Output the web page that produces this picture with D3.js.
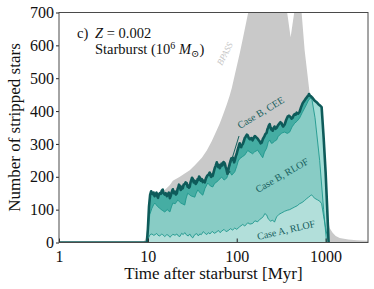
<!DOCTYPE html>
<html>
<head>
<meta charset="utf-8">
<script src="https://cdn.jsdelivr.net/npm/d3@7"></script>
<style>
  html, body { margin: 0; padding: 0; background: #ffffff; }
  text { font-family: 'Liberation Serif', 'DejaVu Serif', serif; }
</style>
</head>
<body>
<div id="chart"></div>
<script>
// [time after starburst (Myr), number of stripped stars]
const bpass = [
  [1, 0], [8.8, 0], [9.4, 10], [9.8, 40], [10.2, 95], [10.6, 125], [11.1, 138], [12.0, 145],
  [13.6, 150], [15.5, 160], [17.7, 175], [19.1, 188], [22.9, 200], [26.0, 210], [29.6, 220],
  [34.0, 236], [40.5, 258], [46.0, 280], [52.3, 308], [58.0, 335], [64.4, 362], [70.0, 388],
  [77.2, 420], [83.0, 446], [88.0, 470], [95.0, 510], [108, 575], [118, 625], [129, 676],
  [140, 722], [200, 820], [300, 800], [340, 760], [365, 710], [404, 625], [449, 710],
  [490, 740], [537, 700], [581, 585], [661, 455], [720, 380], [800, 290], [900, 200],
  [1000, 120], [1060, 70], [1110, 44], [1200, 30], [1300, 20], [1440, 14], [1800, 9],
  [2240, 7], [3000, 5]
]

const caseBCEE = [
  [1, 0], [9.75, 0], [10.0, 40], [10.3, 110], [10.6, 145], [10.9, 156], [11.1, 150], [11.4, 147],
  [11.6, 152], [11.9, 141], [12.2, 146], [12.5, 152], [12.8, 140], [13.0, 136], [13.3, 146],
  [13.6, 150], [14.0, 148], [14.3, 157], [14.7, 161], [15.0, 150], [15.5, 146], [15.9, 150],
  [16.35, 141], [16.8, 147], [17.2, 152], [17.7, 135], [18.1, 142], [18.4, 150], [18.8, 158],
  [19.1, 162], [19.6, 150], [20.2, 155], [20.7, 146], [21.2, 150], [21.6, 163], [22.0, 168],
  [22.4, 176], [22.9, 172], [23.4, 160], [23.8, 163], [24.3, 170], [24.7, 165], [25.3, 176],
  [26.0, 178], [26.6, 183], [27.4, 180], [28.0, 170], [28.5, 174], [29.0, 167], [29.6, 170],
  [30.2, 183], [30.8, 190], [31.4, 197], [32.0, 194], [32.8, 183], [33.7, 188], [34.5, 178],
  [35.5, 183], [36.3, 193], [37.0, 190], [37.7, 201], [38.4, 198], [39.5, 188], [40.5, 193],
  [41.5, 184], [42.5, 188], [43.7, 183], [45.0, 195], [46.5, 203], [48.0, 206], [49.7, 213],
  [50.5, 204], [51.5, 200], [52.5, 207], [53.7, 203], [55.0, 214], [56.5, 226], [58.0, 234],
  [59.6, 244], [60.8, 236], [62.0, 230], [63.2, 236], [64.4, 226], [66.0, 232], [67.5, 240],
  [69.0, 235], [71.0, 245], [73.3, 241], [75.0, 230], [76.5, 224], [78.0, 213], [79.2, 210],
  [80.5, 222], [82.0, 232], [83.5, 240], [85.5, 250], [87.0, 256], [88.5, 252], [90.2, 258],
  [92.0, 250], [93.5, 244], [95, 250], [97.5, 262], [100, 270], [102, 280], [104, 287],
  [106, 296], [108, 302], [110, 294], [112, 290], [114, 296], [117, 300], [120, 308],
  [123, 318], [126, 322], [130, 328], [133, 326], [137, 317], [141, 314], [146, 318],
  [151, 311], [155, 318], [160, 324], [166, 320], [172, 316], [176, 312], [181, 308],
  [186, 302], [191, 304], [197, 315], [204, 322], [210, 330], [217, 334], [221, 344],
  [226, 350], [230, 356], [235, 360], [240, 350], [245, 344], [250, 346], [254, 340],
  [260, 348], [266, 353], [273, 346], [281, 349], [290, 356], [300, 361], [310, 366],
  [320, 363], [327, 356], [333, 353], [340, 357], [346, 359], [353, 366], [360, 373],
  [367, 378], [374, 383], [387, 386], [400, 383], [413, 377], [426, 380], [437, 387],
  [449, 391], [460, 389], [472, 395], [490, 392], [510, 398], [520, 405], [530, 412],
  [541, 418], [552, 424], [565, 428], [580, 432], [595, 437], [612, 441], [626, 445],
  [640, 447], [650, 452], [661, 449], [675, 446], [690, 444], [714, 440], [750, 432],
  [792, 427], [830, 421], [857, 418], [902, 412], [950, 320], [1000, 215], [1040, 110],
  [1081, 0]
]

const caseBRLOF = [
  [9.8, 0], [10.1, 40], [10.5, 85], [11.1, 104], [11.6, 115], [12.0, 120], [12.8, 110],
  [13.6, 104], [14.5, 98], [15.5, 93], [16.5, 100], [17.7, 93], [18.4, 108], [19.1, 120],
  [20.3, 118], [21.7, 129], [23.5, 120], [26.0, 114], [27.0, 135], [28.1, 150], [30.5, 142],
  [33.7, 138], [35.0, 150], [36.5, 160], [39.0, 150], [41.5, 144], [44.0, 165], [47.2, 181],
  [50.5, 172], [53.7, 169], [56.5, 180], [59.6, 184], [63.5, 192], [67.8, 199], [72.0, 190],
  [77.2, 196], [80.0, 208], [83.4, 215], [88.0, 205], [95, 215], [100, 232], [104, 248],
  [108, 255], [117, 262], [123, 266], [133, 280], [141, 275], [151, 270], [159, 276],
  [172, 281], [183, 270], [196, 258], [205, 275], [217, 287], [226, 305], [235, 312],
  [245, 302], [254, 303], [266, 308], [281, 312], [292, 322], [304, 327], [320, 333],
  [346, 336], [370, 332], [394, 336], [420, 352], [449, 363], [480, 370], [510, 379],
  [545, 395], [581, 409], [615, 422], [644, 434], [670, 438], [697, 440], [760, 380],
  [857, 250], [950, 100], [1026, 0]
]

const caseARLOF = [
  [9.8, 0], [10.2, 15], [10.6, 24], [11.1, 26], [11.6, 22], [12.0, 23], [12.5, 28], [13.0, 22],
  [13.6, 20], [14.2, 25], [14.7, 24], [15.5, 18], [16.35, 24], [17.0, 22], [17.7, 16],
  [18.4, 20], [19.1, 25], [20.2, 22], [21.2, 26], [22.0, 20], [22.9, 18], [24.0, 28],
  [25.0, 24], [26.0, 30], [27.4, 22], [28.5, 20], [29.6, 26], [31.0, 17], [32.0, 14],
  [33.7, 24], [35.5, 27], [37.0, 20], [38.4, 26], [40.0, 24], [42.0, 33], [44.0, 28],
  [46.0, 24], [48.0, 30], [50.0, 26], [53.0, 34], [56.0, 28], [59.6, 32], [62.0, 37],
  [65.0, 30], [68.0, 35], [72.0, 40], [76.0, 33], [80.0, 36], [85.0, 42], [90.0, 38],
  [95.0, 44], [100, 40], [108, 48], [117, 55], [123, 50], [133, 60], [141, 56], [151, 58],
  [160, 66], [172, 63], [181, 70], [191, 74], [200, 80], [207, 88], [217, 84], [226, 72],
  [240, 65], [254, 68], [266, 62], [281, 78], [300, 86], [320, 90], [346, 95], [370, 98],
  [394, 100], [420, 104], [449, 108], [480, 112], [510, 118], [545, 122], [581, 128],
  [615, 134], [644, 138], [670, 142], [697, 145], [720, 140], [760, 134], [808, 130],
  [857, 126], [902, 118], [950, 80], [1000, 45], [1050, 15], [1100, 0]
]

const xTicks = [1, 10, 100, 1000]
const yTicks = [0, 100, 200, 300, 400, 500, 600, 700]

const W = 374
const H = 289
const margin = { left: 59, top: 12.5, right: 6, bottom: 46.5 }

const x = d3.scaleLog().domain([1, 3000]).range([margin.left, W - margin.right])
const y = d3.scaleLinear().domain([0, 700]).range([H - margin.bottom, margin.top])

const svg = d3.select('#chart').append('svg').attr('width', W).attr('height', H)

const defs = svg.append('defs')
defs
  .append('clipPath')
  .attr('id', 'plotClip')
  .append('rect')
  .attr('x', margin.left)
  .attr('y', margin.top)
  .attr('width', W - margin.right - margin.left)
  .attr('height', H - margin.bottom - margin.top)

// medium band only runs while the RLOF curve is still up
defs
  .append('clipPath')
  .attr('id', 'bandClip')
  .append('rect')
  .attr('x', x(9))
  .attr('y', margin.top)
  .attr('width', x(700) - x(9))
  .attr('height', H - margin.bottom - margin.top)

const plot = svg.append('g').attr('clip-path', 'url(#plotClip)')

const area = d3
  .area()
  .x((d) => x(d[0]))
  .y0(y(0))
  .y1((d) => y(d[1]))

const line = d3
  .line()
  .x((d) => x(d[0]))
  .y((d) => y(d[1]))

plot.append('path').attr('d', area(bpass)).attr('fill', '#c9c9c9')

plot.append('path').attr('d', area(caseBCEE)).attr('fill', '#a3ddd6')
plot
  .append('g')
  .attr('clip-path', 'url(#bandClip)')
  .append('path')
  .attr('d', area(caseBCEE))
  .attr('fill', '#45ada3')
plot.append('path').attr('d', area(caseBRLOF)).attr('fill', '#88ccc5')
plot.append('path').attr('d', area(caseARLOF)).attr('fill', '#b2dfda')

plot
  .append('path')
  .attr('d', line(caseARLOF))
  .attr('fill', 'none')
  .attr('stroke', '#1f978d')
  .attr('stroke-width', 0.9)
plot
  .append('path')
  .attr('d', line(caseBRLOF))
  .attr('fill', 'none')
  .attr('stroke', '#1f978d')
  .attr('stroke-width', 0.9)
plot
  .append('path')
  .attr('d', line(caseBCEE))
  .attr('fill', 'none')
  .attr('stroke', '#0e5b5a')
  .attr('stroke-width', 2.6)
  .attr('stroke-linejoin', 'round')

// axes
const xAxis = svg
  .append('g')
  .attr('transform', `translate(0,${y(0)})`)
  .call(
    d3
      .axisBottom(x)
      .tickValues(xTicks)
      .tickFormat(d3.format('d'))
      .tickSizeInner(-4)
      .tickSizeOuter(0)
      .tickPadding(8)
  )
xAxis.select('.domain').remove()
xAxis.selectAll('line').attr('stroke', '#222')
xAxis.selectAll('text').attr('font-size', 16).attr('fill', '#111').attr('font-family', 'Liberation Serif')

const yAxis = svg
  .append('g')
  .attr('transform', `translate(${margin.left},0)`)
  .call(d3.axisLeft(y).tickValues(yTicks).tickSizeInner(3).tickSizeOuter(0).tickPadding(2))
yAxis.select('.domain').remove()
yAxis.selectAll('line').attr('stroke', '#222')
yAxis.selectAll('text').attr('font-size', 16).attr('fill', '#111').attr('font-family', 'Liberation Serif')

svg
  .append('rect')
  .attr('x', margin.left)
  .attr('y', margin.top)
  .attr('width', W - margin.right - margin.left)
  .attr('height', H - margin.bottom - margin.top)
  .attr('fill', 'none')
  .attr('stroke', '#4a4a4a')
  .attr('stroke-width', 1)

svg
  .append('text')
  .attr('x', (margin.left + W - margin.right) / 2)
  .attr('y', 279)
  .attr('text-anchor', 'middle')
  .attr('font-size', 17)
  .attr('fill', '#111')
  .text('Time after starburst [Myr]')

svg
  .append('text')
  .attr('transform', `translate(20,${(margin.top + H - margin.bottom) / 2}) rotate(-90)`)
  .attr('text-anchor', 'middle')
  .attr('font-size', 17)
  .attr('fill', '#111')
  .text('Number of stripped stars')

// panel annotation
const note = svg.append('g').attr('fill', '#111').attr('font-size', 14.5)
note.append('text').attr('x', 77).attr('y', 38).text('c)')
const zLine = note.append('text').attr('x', 95).attr('y', 38)
zLine.append('tspan').attr('font-style', 'italic').text('Z')
zLine.append('tspan').text(' = 0.002')
const sb = note.append('text').attr('x', 95).attr('y', 54)
sb.append('tspan').text('Starburst (10')
sb.append('tspan').attr('font-size', 10).attr('dy', -5).text('6')
sb.append('tspan').attr('dy', 5).text(' ')
sb.append('tspan').attr('font-style', 'italic').text('M')
sb.append('tspan').attr('font-size', 10).attr('dy', 3).text('⊙')
sb.append('tspan').attr('dy', -3).text(')')

svg
  .append('text')
  .attr('transform', 'translate(222,66) rotate(-63)')
  .attr('font-size', 9)
  .attr('font-style', 'italic')
  .attr('fill', '#c4c4c4')
  .text('BPASS')

const teal = '#17605e'
svg
  .append('text')
  .attr('transform', 'translate(240,129) rotate(-31)')
  .attr('font-size', 10)
  .attr('fill', teal)
  .text('Case B, CEE')
svg
  .append('text')
  .attr('transform', 'translate(258,193) rotate(-30)')
  .attr('font-size', 10)
  .attr('fill', teal)
  .text('Case B, RLOF')
svg
  .append('text')
  .attr('transform', 'translate(258,240) rotate(-13)')
  .attr('font-size', 10)
  .attr('fill', teal)
  .text('Case A, RLOF')

defs
  .append('marker')
  .attr('id', 'arrowHead')
  .attr('viewBox', '0 0 10 10')
  .attr('refX', 9)
  .attr('refY', 5)
  .attr('markerWidth', 5)
  .attr('markerHeight', 5)
  .attr('orient', 'auto')
  .append('path')
  .attr('d', 'M0,0 L10,5 L0,10 z')
  .attr('fill', teal)

svg
  .append('line')
  .attr('x1', 239)
  .attr('y1', 136)
  .attr('x2', 227)
  .attr('y2', 175)
  .attr('stroke', teal)
  .attr('stroke-width', 1)
  .attr('marker-end', 'url(#arrowHead)')
</script>
</body>
</html>
